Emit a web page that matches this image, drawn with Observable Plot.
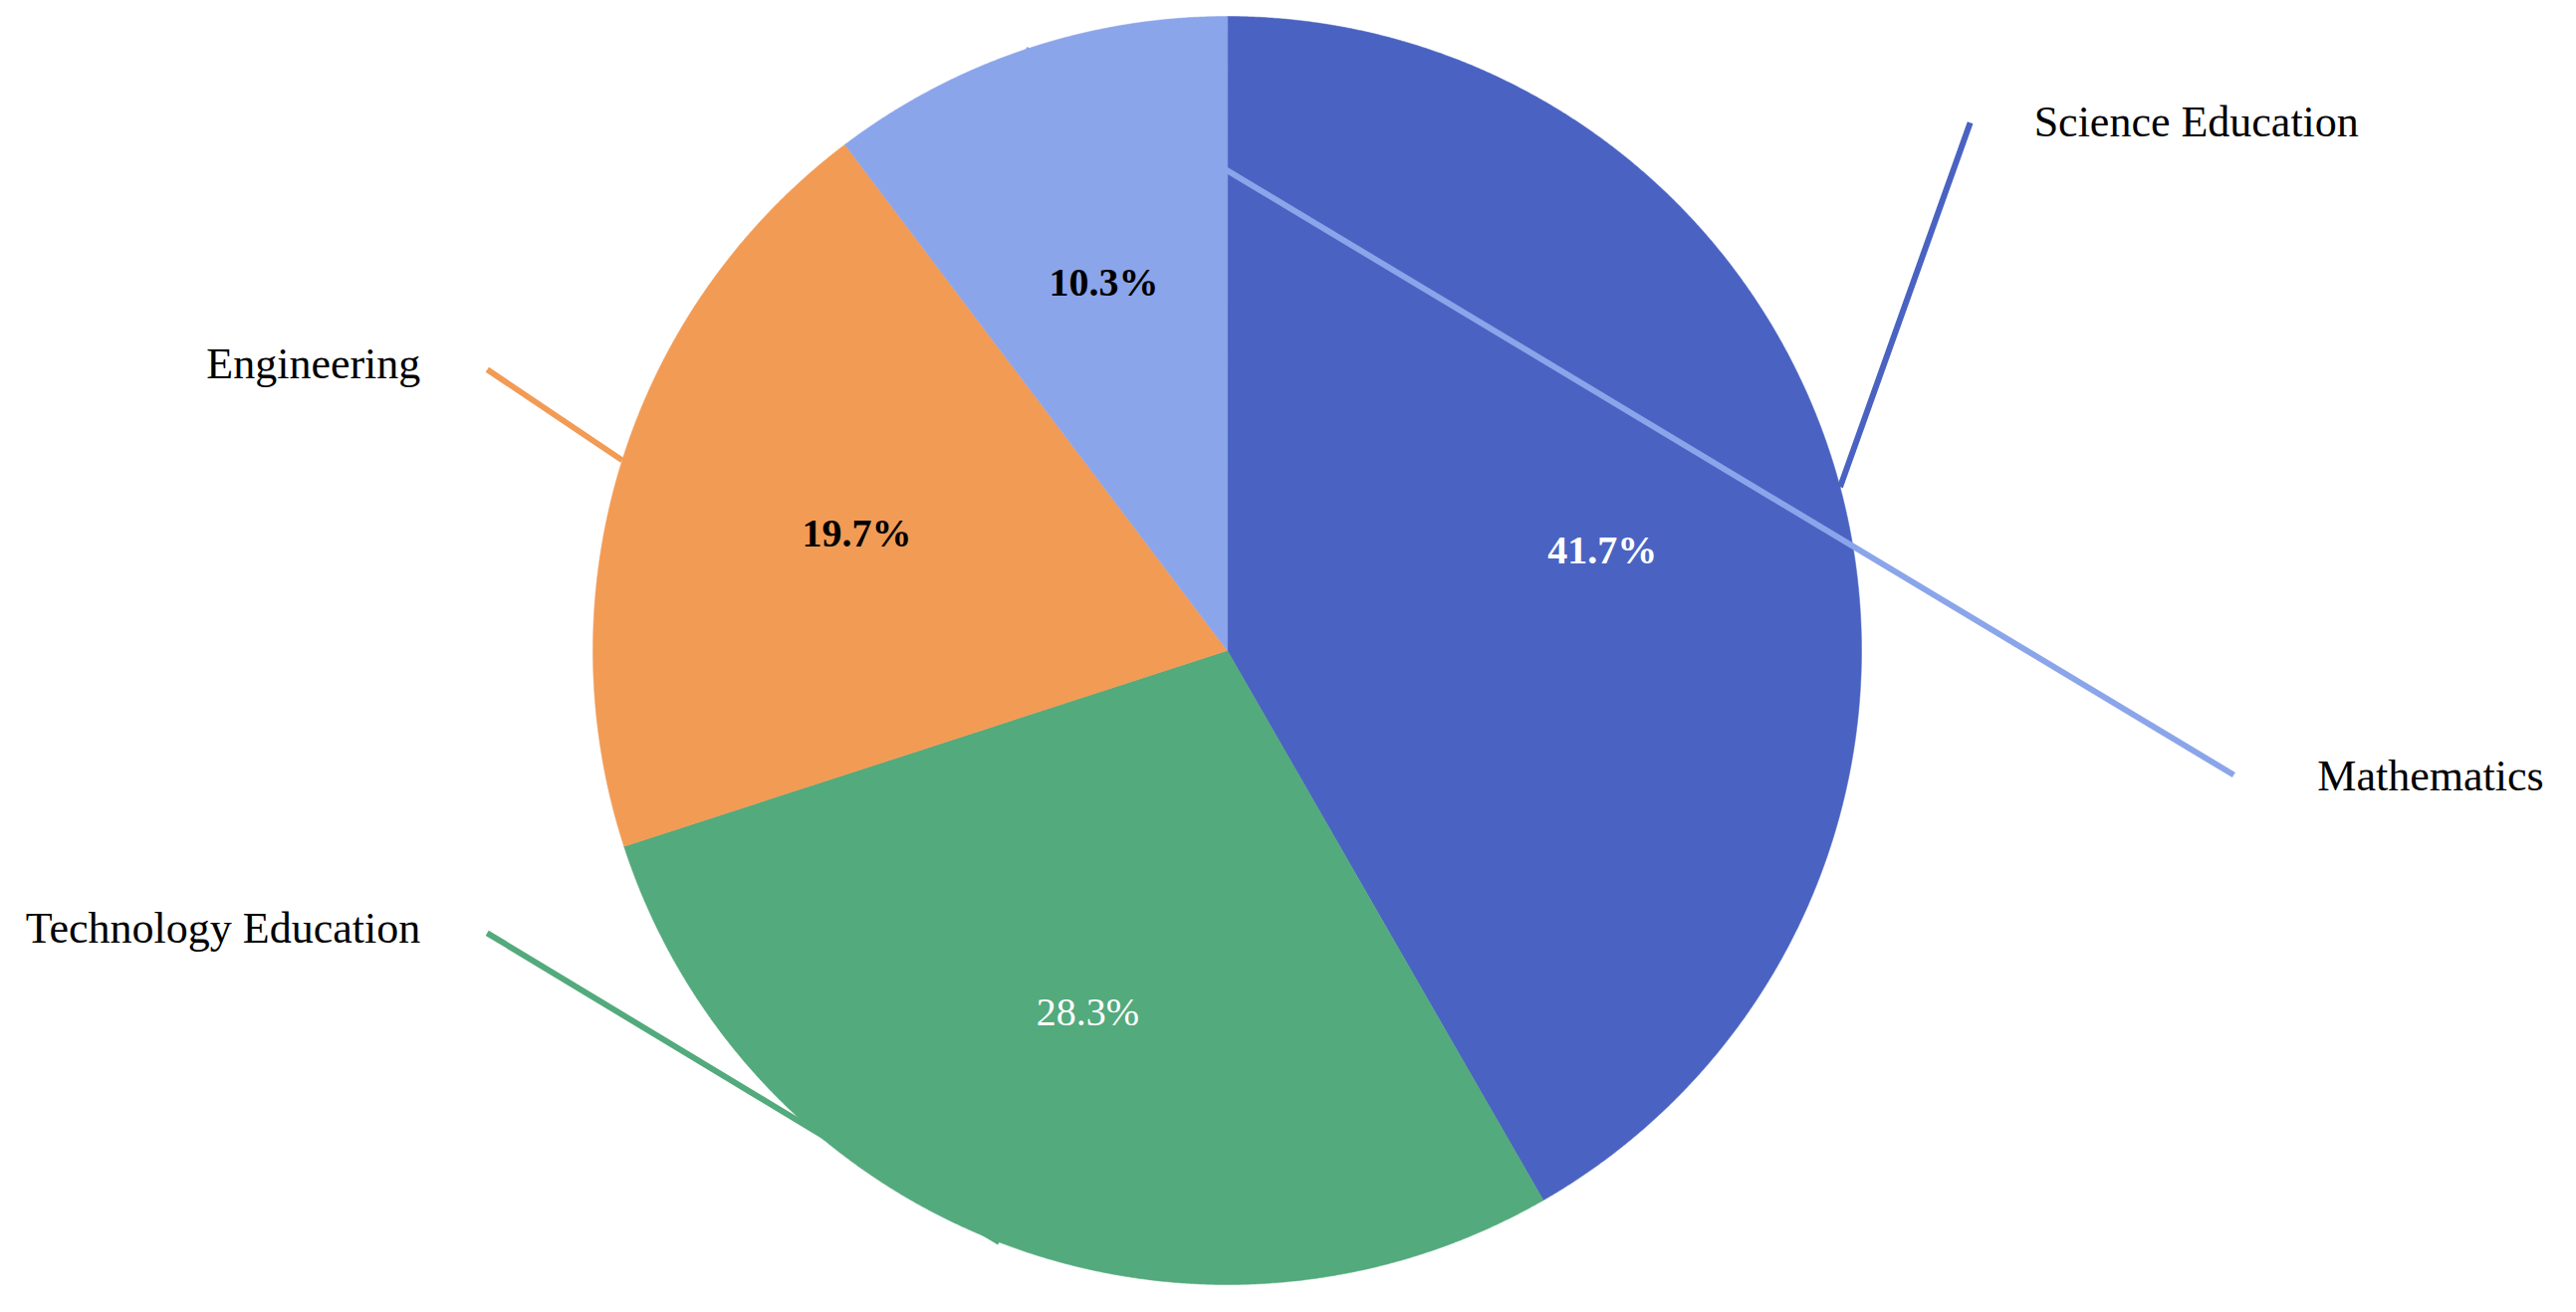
<!DOCTYPE html>
<html>
<head>
<meta charset="utf-8">
<script src="https://cdn.jsdelivr.net/npm/d3@7"></script>
<script src="https://cdn.jsdelivr.net/npm/@observablehq/plot@0.6"></script>
<style>
  html, body { margin: 0; padding: 0; background: #fff; }
  #chart svg { display: block; }
</style>
</head>
<body>
<div id="chart"></div>
<script>
// ---- data ----
const categories = ["Science Education", "Technology Education", "Engineering", "Mathematics"];
const shares = [41.7, 28.3, 19.7, 10.3];
const colors = ["#4A63C2", "#53AA7C", "#F29B55", "#8BA5EB"];
const pctColors = ["#ffffff", "#ffffff", "#000000", "#000000"];
const pctWeights = ["bold", "normal", "bold", "bold"];

// ---- layout (label anchors in polar coords: degrees clockwise from top, radius factor) ----
const labelAngle = [54.6, 249.1, 290.8, 97.05];
const labelRadius = [1.437, 1.249, 1.248, 1.599];
const labelDx = [64, -67, -67, 84];
const labelDy = [0, -4, -5, 1];
const labelAnchor = ["start", "end", "end", "start"];

const W = 2587, H = 1318;
const cx = 1232, cy = 653, R = 637;

const total = d3.sum(shares);
const rad = (deg) => deg * Math.PI / 180;
const px = (a, r) => r * Math.sin(rad(a));
const py = (a, r) => r * Math.cos(rad(a));

let acc = 0;
const slices = categories.map((c, i) => {
  const a0 = acc / total * 360;
  acc += shares[i];
  const a1 = acc / total * 360;
  return {category: c, share: shares[i], a0, a1, mid: (a0 + a1) / 2, i};
});

// polygon points for each slice
const polys = [];
for (const s of slices) {
  polys.push({category: s.category, x: 0, y: 0});
  const n = Math.max(2, Math.ceil((s.a1 - s.a0) / 0.2));
  for (let k = 0; k <= n; k++) {
    const a = s.a0 + (s.a1 - s.a0) * k / n;
    polys.push({category: s.category, x: px(a, 1), y: py(a, 1)});
  }
}

const links = slices.map(s => ({
  category: s.category,
  x1: px(s.mid, 1), y1: py(s.mid, 1),
  x2: px(labelAngle[s.i], labelRadius[s.i]), y2: py(labelAngle[s.i], labelRadius[s.i])
}));

const pcts = slices.map(s => ({
  text: s.share.toFixed(1) + "%",
  x: px(s.mid, 0.612), y: py(s.mid, 0.612),
  fill: pctColors[s.i], weight: pctWeights[s.i]
}));

const labels = slices.map(s => ({
  text: s.category,
  x: px(labelAngle[s.i], labelRadius[s.i]), y: py(labelAngle[s.i], labelRadius[s.i]),
  dx: labelDx[s.i], dy: labelDy[s.i], anchor: labelAnchor[s.i]
}));

const font = "'Liberation Serif', 'DejaVu Serif', serif";

const marks = [
  Plot.line(polys, {x: "x", y: "y", z: "category", fill: "category", stroke: "category", strokeWidth: 0.5, curve: "linear-closed"}),
  Plot.link(links, {x1: "x1", y1: "y1", x2: "x2", y2: "y2", stroke: "category", strokeWidth: 6, strokeOpacity: 1})
];
for (const p of pcts) {
  marks.push(Plot.text([p], {x: "x", y: "y", text: "text", fill: p.fill, fontSize: 40, fontWeight: p.weight, fontFamily: font}));
}
for (const l of labels) {
  marks.push(Plot.text([l], {x: "x", y: "y", text: "text", dx: l.dx, dy: l.dy, textAnchor: l.anchor, fill: "#000", fontSize: 44, fontFamily: font}));
}

const chart = Plot.plot({
  width: W,
  height: H,
  margin: 0,
  style: {background: "#fff", fontFamily: font},
  x: {domain: [-cx / R, (W - cx) / R], range: [0, W], axis: null},
  y: {domain: [-(H - cy) / R, cy / R], range: [H, 0], axis: null},
  color: {domain: categories, range: colors},
  marks
});
document.getElementById("chart").appendChild(chart);
</script>
</body>
</html>
